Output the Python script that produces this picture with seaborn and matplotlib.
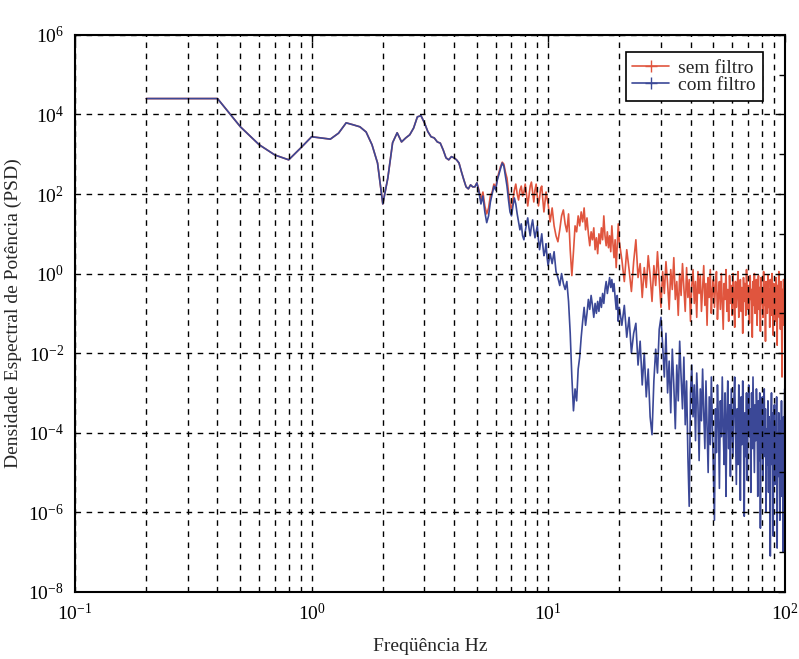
import numpy as np
import pandas as pd
import matplotlib
matplotlib.use("Agg")
import matplotlib.pyplot as plt
from matplotlib.lines import Line2D
from matplotlib.ticker import NullFormatter
import seaborn as sns

# ---------------- data (log10 of PSD) ----------------
freq_low = np.round(np.arange(0.2, 10.001, 0.1), 1)      # 0.2 .. 10.0 Hz
freq_mid = np.round(np.arange(10.2, 20.001, 0.2), 1)     # 10.2 .. 20.0 Hz
freq_high = np.round(np.arange(20.5, 100.001, 0.5), 1)   # 20.5 .. 100 Hz

# identical for both series, 0.2 .. 5.0 Hz
log_common = [4.40, 4.40, 4.40, 3.69, 3.24, 2.98, 2.86, 3.16, 3.44, 3.41,
              3.38, 3.53, 3.79, 3.74, 3.69, 3.56, 3.24, 2.78, 1.75, 2.40,
              3.29, 3.54, 3.31, 3.41, 3.49, 3.66, 3.94, 3.97, 3.79, 3.57,
              3.44, 3.41, 3.31, 3.28, 3.11, 2.91, 2.86, 2.94, 2.91, 2.86,
              2.78, 2.56, 2.36, 2.18, 2.13, 2.23, 2.18, 2.18, 2.28]

# sem filtro, 5.1 .. 10.0 Hz
log_sem_a = [2.10, 1.85, 2.05, 1.70, 1.50, 1.65, 1.95, 2.05, 2.25, 2.15,
             2.40, 2.55, 2.70, 2.80, 2.75, 2.55, 2.40, 2.05, 1.75, 1.60,
             1.85, 2.10, 2.25, 2.00, 1.85, 2.10, 2.20, 1.95, 2.05, 2.25,
             2.00, 1.70, 1.95, 2.20, 2.30, 2.05, 1.80, 2.10, 2.25, 1.95,
             1.70, 1.90, 2.15, 2.20, 1.85, 1.55, 1.80, 2.05, 1.90, 1.75]
# sem filtro, 10.2 .. 20.0 Hz
log_sem_b = [1.30, 1.65, 1.20, 0.95, 0.80, 1.10, 1.45, 1.60, 1.25, 1.05,
             1.50, 0.60, -0.05, 0.55, 1.20, 1.05, 1.45, 1.20, 1.55, 1.30,
             1.65, 1.10, 1.40, 1.00, 0.70, 1.05, 0.85, 1.15, 0.60, 0.90,
             0.50, 1.00, 0.75, 1.15, 0.85, 1.45, 0.95, 0.70, 1.05, 0.65,
             0.95, 0.55, 1.20, 0.75, 0.40, 0.85, 0.15, 0.70, 1.25, 0.80]
# sem filtro, 20.5 .. 100 Hz
log_sem_c = [0.35, -0.20, 0.60, 0.10, -0.45, 0.30, 0.85, -0.10, 0.25, -0.60,
             0.15, -0.35, 0.45, -0.05, -0.70, 0.20, -0.30, 0.55, -0.15, -0.85,
             0.05, -0.50, 0.30, -0.25, -0.90, 0.10, -0.40, 0.40, -0.65, -0.20,
             -1.05, 0.00, -0.55, 0.25, -0.35, -0.95, 0.15, -0.60, -0.15, -1.20,
             -0.30, 0.10, -0.75, -0.20, -1.10, 0.05, -0.50, -0.05, -0.95, -0.35,
             0.20, -0.80, -0.25, -1.30, -0.10, -0.60, 0.10, -1.00, -0.40, -0.15,
             -0.85, -0.30, 0.05, -1.15, -0.55, -0.20, -0.90, 0.00, -0.70, -1.40,
             -0.25, -0.65, 0.10, -0.95, -0.40, -1.20, -0.05, -0.75, -0.30, -1.05,
             0.00, -0.60, -1.35, -0.20, -0.85, -0.45, 0.05, -1.10, -0.50, -0.15,
             -0.95, -0.35, -1.50, -0.10, -0.70, -0.25, -1.05, 0.10, -0.55, -0.90,
             -0.30, -1.25, -0.05, -0.65, -0.40, -1.60, -0.20, -0.80, 0.00, -1.00,
             -0.45, -0.15, -1.30, -0.60, -0.05, -0.90, -0.35, -1.45, -0.10, -0.75,
             -0.50, -1.10, 0.05, -0.80, -0.30, -1.70, -0.20, -0.65, -1.00, -0.05,
             -0.85, -0.40, -1.35, -0.15, -0.70, -1.05, 0.00, -0.55, -1.55, -0.25,
             -0.90, -0.35, -1.20, -0.10, -0.60, -1.80, -0.30, -0.75, 0.05, -1.10,
             -0.50, -1.40, -0.20, -0.85, -2.60, -0.40, -1.00, -0.15, -1.30, -0.70]

# com filtro, 5.1 .. 10.0 Hz
log_com_a = [2.05, 1.75, 1.95, 1.55, 1.28, 1.45, 1.80, 2.00, 2.20, 2.10,
             2.35, 2.50, 2.65, 2.78, 2.70, 2.45, 2.20, 1.85, 1.55, 1.45,
             1.70, 1.90, 1.75, 1.50, 1.30, 1.10, 1.25, 0.95, 0.85, 1.05,
             1.25, 1.40, 1.15, 0.95, 1.20, 1.35, 1.10, 0.90, 1.05, 1.20,
             0.85, 0.60, 0.80, 1.00, 0.70, 0.45, 0.55, 0.75, 0.40, 0.20]
# com filtro, 10.2 .. 20.0 Hz
log_com_b = [0.50, 0.25, 0.55, 0.05, -0.10, -0.30, 0.00, -0.25, -0.40, -0.20,
             -0.70, -1.50, -2.60, -3.45, -2.90, -3.20, -2.40, -2.10, -1.60, -1.20,
             -0.85, -1.30, -1.00, -0.65, -0.90, -0.55, -0.80, -1.10, -0.75, -1.00,
             -0.70, -0.95, -0.60, -0.85, -0.50, -0.75, -0.40, -0.20, -0.50, -0.30,
             -0.10, -0.35, -0.15, -0.45, -0.25, -0.60, -0.90, -0.55, -1.20, -0.85]
# com filtro, 20.5 .. 100 Hz
log_com_c = [-1.30, -0.80, -1.60, -1.10, -2.00, -1.50, -1.25, -2.30, -1.70, -2.80,
             -2.00, -3.10, -2.40, -3.60, -4.05, -2.70, -1.90, -2.50, -1.40, -1.10,
             -1.80, -2.60, -1.50, -3.00, -2.20, -3.50, -1.90, -2.80, -3.90, -2.30,
             -3.20, -1.70, -2.60, -3.40, -2.10, -3.80, -2.70, -4.60, -5.85, -3.00,
             -2.30, -3.60, -2.80, -4.20, -2.50, -3.30, -4.70, -2.90, -3.70, -2.40,
             -3.50, -4.40, -2.70, -3.90, -5.00, -3.10, -4.30, -2.60, -3.80, -4.90,
             -6.20, -3.40, -4.50, -2.80, -3.70, -5.40, -3.20, -4.10, -2.60, -3.90,
             -4.80, -3.00, -5.60, -3.60, -2.70, -4.40, -3.30, -5.10, -2.90, -3.80,
             -4.60, -3.20, -2.60, -4.00, -5.30, -3.40, -4.80, -2.80, -3.60, -5.70,
             -3.10, -4.30, -2.70, -3.90, -6.10, -3.50, -4.60, -3.00, -5.20, -3.70,
             -2.80, -4.10, -3.40, -5.50, -3.00, -4.40, -2.60, -3.80, -5.00, -3.30,
             -4.20, -2.90, -3.60, -5.60, -3.20, -4.70, -3.00, -6.40, -3.80, -4.50,
             -3.10, -5.20, -3.70, -2.90, -4.60, -3.40, -6.00, -3.90, -4.80, -3.20,
             -5.50, -3.60, -4.30, -7.10, -3.90, -3.00, -4.80, -3.50, -6.60, -4.20,
             -3.30, -5.30, -3.80, -4.60, -3.10, -6.90, -4.00, -5.10, -3.50, -4.40,
             -6.20, -3.70, -4.80, -3.20, -5.60, -4.10, -7.00, -3.60, -4.90, -2.90]

series_names = ["sem filtro", "com filtro"]
series_colors = ["#e0553e", "#3b4897"]
x_tick_vals = [0.1, 1, 10, 100]
y_tick_vals = [1e-8, 1e-6, 1e-4, 1e-2, 1e0, 1e2, 1e4, 1e6]
y_minor_vals = [1e-7, 1e-5, 1e-3, 1e-1, 1e1, 1e3, 1e5]
x_label = "Freqüência Hz"
y_label = "Densidade Espectral de Potência (PSD)"

# ---------------- build table ----------------
freq = np.concatenate([freq_low, freq_mid, freq_high])
log_sem = np.array(log_common + log_sem_a + log_sem_b + log_sem_c)
log_com = np.array(log_common + log_com_a + log_com_b + log_com_c)
assert len(freq) == len(log_sem) == len(log_com)

df = pd.concat([
    pd.DataFrame({"freq": freq, "psd": 10.0 ** log_sem, "serie": series_names[0]}),
    pd.DataFrame({"freq": freq, "psd": 10.0 ** log_com, "serie": series_names[1]}),
], ignore_index=True)

# ---------------- style ----------------
sns.set_theme(style="white")
plt.rcParams["font.family"] = ["Liberation Serif", "DejaVu Serif"]
plt.rcParams["mathtext.fontset"] = "custom"
plt.rcParams["mathtext.rm"] = "Liberation Serif"
plt.rcParams["mathtext.it"] = "Liberation Serif:italic"
plt.rcParams["mathtext.bf"] = "Liberation Serif:bold"

fig = plt.figure(figsize=(7.99, 6.59), dpi=100)
ax = fig.add_axes([0.094, 0.102, 0.888, 0.845])

sns.lineplot(data=df, x="freq", y="psd", hue="serie",
             palette=dict(zip(series_names, series_colors)),
             estimator=None, sort=False, linewidth=1.2, ax=ax, legend=False)

ax.set_xscale("log")
ax.set_yscale("log")

ax.set_xticks(x_tick_vals)
ax.set_xticklabels([r"$10^{%d}$" % int(np.log10(v)) for v in x_tick_vals])
xminor = [m * 10.0 ** e for e in (-1, 0, 1) for m in range(2, 10)]
ax.set_xticks(xminor, minor=True)
ax.xaxis.set_minor_formatter(NullFormatter())
ax.set_yticks(y_tick_vals)
ax.set_yticklabels([r"$10^{%d}$" % int(round(np.log10(v))) for v in y_tick_vals])
ax.set_yticks(y_minor_vals, minor=True)
ax.yaxis.set_minor_formatter(NullFormatter())
ax.set_xlim(0.1, 100)
ax.set_ylim(1e-8, 1e6)

ax.tick_params(which="both", direction="in", top=True, right=True,
               labelsize=14, colors="black")
ax.tick_params(which="major", length=5, width=1, pad=8)
ax.tick_params(which="minor", length=4, width=1)
ax.tick_params(axis="x", which="minor", length=0)

ax.set_axisbelow(False)
ax.xaxis.grid(True, which="both", color="black", linestyle=(0, (4, 4)), linewidth=1.0)
ax.yaxis.grid(True, which="major", color="black", linestyle=(0, (4, 4)), linewidth=1.0)
ax.yaxis.grid(False, which="minor")

for s in ax.spines.values():
    s.set_color("black")
    s.set_linewidth(1.5)

ax.set_xlabel(x_label, fontsize=14, labelpad=10)
ax.set_ylabel(y_label, fontsize=14, labelpad=4)

handles = [Line2D([0, 1, 2], [0, 0, 0], color=c, linewidth=1.2, marker="+",
                  markersize=8, markevery=[1]) for c in series_colors]
leg = ax.legend(handles, series_names, loc="upper right",
                bbox_to_anchor=(0.969, 0.969), borderaxespad=0,
                frameon=True, fancybox=False, edgecolor="black",
                fontsize=14, handlelength=1.9, handletextpad=0.45,
                labelspacing=0.0, borderpad=0.35)
leg.get_frame().set_linewidth(1.2)
leg.get_frame().set_alpha(1)

fig.savefig("out.png", dpi=100, facecolor="white")
